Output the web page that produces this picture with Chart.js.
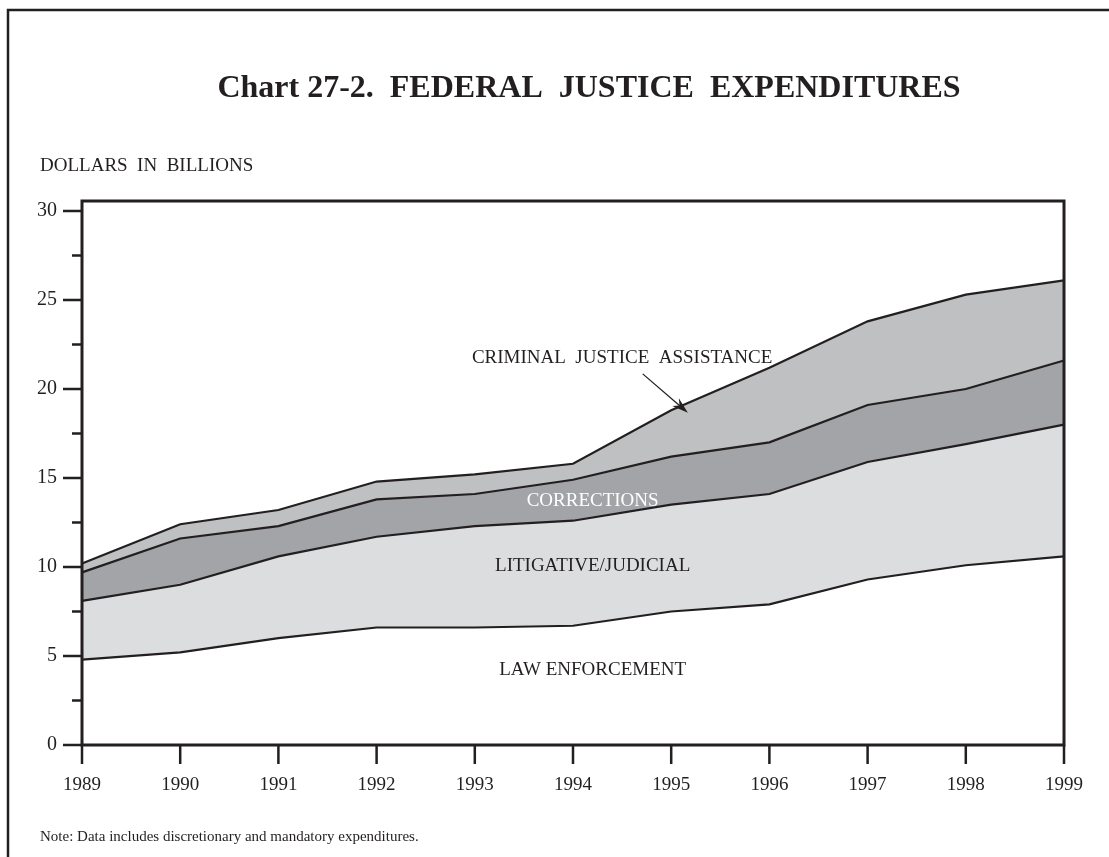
<!DOCTYPE html>
<html>
<head>
<meta charset="utf-8">
<title>Federal Justice Expenditures</title>
<script src="https://cdn.jsdelivr.net/npm/chart.js@4.4.1/dist/chart.umd.min.js"></script>
<style>
  html, body { margin: 0; padding: 0; background: #fff; }
  #wrap { position: relative; width: 1109px; height: 857px; }
</style>
</head>
<body>
<div id="wrap"><canvas id="justiceChart" width="1109" height="857"></canvas></div>
<script>
// data (billions of dollars, each category's own amount)
const years = ['1989', '1990', '1991', '1992', '1993', '1994', '1995', '1996', '1997', '1998', '1999'];
const lawEnforcement = [4.8, 5.2, 6.0, 6.6, 6.6, 6.7, 7.5, 7.9, 9.3, 10.1, 10.6];
const litigativeJudicial = [3.3, 3.8, 4.6, 5.1, 5.7, 5.9, 6.0, 6.2, 6.6, 6.8, 7.4];
const corrections = [1.6, 2.6, 1.7, 2.1, 1.8, 2.3, 2.7, 2.9, 3.2, 3.1, 3.6];
const criminalJusticeAssistance = [0.5, 0.8, 0.9, 1.0, 1.1, 0.9, 2.6, 4.2, 4.7, 5.3, 4.5];
const yTicks = [0, 5, 10, 15, 20, 25, 30];
const yMinorTicks = [2.5, 7.5, 12.5, 17.5, 22.5, 27.5];

const serif = '"Liberation Serif", "Times New Roman", serif';
const ink = '#231f20';

// extra drawing: frame, tick marks, plot box, area labels, arrow
const decorations = {
    id: 'decorations',
    afterDraw(chart) {
        const ctx = chart.ctx;
        const area = chart.chartArea;
        const x = chart.scales.x;
        const y = chart.scales.y;
        ctx.save();

        // page frame (top and left only)
        ctx.strokeStyle = ink;
        ctx.lineWidth = 2.5;
        ctx.beginPath();
        ctx.moveTo(8, 857);
        ctx.lineTo(8, 10);
        ctx.lineTo(1109, 10);
        ctx.stroke();

        // plot box, its top sits a little above the 30 line
        ctx.lineWidth = 3;
        ctx.strokeRect(area.left, area.top - 10, area.right - area.left, area.bottom - area.top + 10);

        // y tick marks
        ctx.lineWidth = 2.5;
        ctx.beginPath();
        yTicks.forEach(function (v) {
            const py = y.getPixelForValue(v);
            ctx.moveTo(area.left - 19, py);
            ctx.lineTo(area.left, py);
        });
        yMinorTicks.forEach(function (v) {
            const py = y.getPixelForValue(v);
            ctx.moveTo(area.left - 10, py);
            ctx.lineTo(area.left, py);
        });
        // x tick marks
        years.forEach(function (yr, i) {
            const px = x.getPixelForValue(i);
            ctx.moveTo(px, area.bottom);
            ctx.lineTo(px, area.bottom + 19);
        });
        ctx.stroke();

        // titles and notes
        ctx.fillStyle = ink;
        ctx.textBaseline = 'middle';
        ctx.textAlign = 'center';
        ctx.font = 'bold 32px ' + serif;
        ctx.fillText('Chart 27-2.  FEDERAL  JUSTICE  EXPENDITURES', 589, 89);
        ctx.textAlign = 'left';
        ctx.font = '19px ' + serif;
        ctx.fillText('DOLLARS  IN  BILLIONS', 40, 166);
        ctx.font = '15px ' + serif;
        ctx.fillText('Note: Data includes discretionary and mandatory expenditures.', 40, 837);

        // area labels
        ctx.textAlign = 'center';
        ctx.font = '19px ' + serif;
        ctx.fillText('CRIMINAL  JUSTICE  ASSISTANCE', x.getPixelForValue(5.5), y.getPixelForValue(21.75));
        ctx.fillText('LITIGATIVE/JUDICIAL', x.getPixelForValue(5.2), y.getPixelForValue(10.08));
        ctx.fillText('LAW ENFORCEMENT', x.getPixelForValue(5.2), y.getPixelForValue(4.2));
        ctx.fillStyle = '#ffffff';
        ctx.fillText('CORRECTIONS', x.getPixelForValue(5.2), y.getPixelForValue(13.73));

        // arrow to the assistance band
        const x0 = x.getPixelForValue(5.71), y0 = y.getPixelForValue(20.85);
        const x1 = x.getPixelForValue(6.17), y1 = y.getPixelForValue(18.67);
        const ang = Math.atan2(y1 - y0, x1 - x0);
        ctx.strokeStyle = ink;
        ctx.fillStyle = ink;
        ctx.lineWidth = 1.3;
        ctx.beginPath();
        ctx.moveTo(x0, y0);
        ctx.lineTo(x1 - 10 * Math.cos(ang), y1 - 10 * Math.sin(ang));
        ctx.stroke();
        ctx.beginPath();
        ctx.moveTo(x1, y1);
        ctx.lineTo(x1 - 17 * Math.cos(ang - 0.3), y1 - 17 * Math.sin(ang - 0.3));
        ctx.lineTo(x1 - 11 * Math.cos(ang), y1 - 11 * Math.sin(ang));
        ctx.lineTo(x1 - 17 * Math.cos(ang + 0.3), y1 - 17 * Math.sin(ang + 0.3));
        ctx.closePath();
        ctx.fill();

        ctx.restore();
    }
};

function band(label, values, fill, color) {
    return {
        label: label,
        data: values,
        fill: fill,
        backgroundColor: color,
        borderColor: ink,
        borderWidth: 2.2,
        pointRadius: 0,
        tension: 0
    };
}

const ctx = document.getElementById('justiceChart').getContext('2d');
const chart = new Chart(ctx, {
    type: 'line',
    data: {
        labels: years,
        datasets: [
            band('Law Enforcement', lawEnforcement, false, 'rgba(0,0,0,0)'),
            band('Litigative/Judicial', litigativeJudicial, '-1', '#dcdddf'),
            band('Corrections', corrections, '-1', '#a3a4a7'),
            band('Criminal Justice Assistance', criminalJusticeAssistance, '-1', '#bfc0c2')
        ]
    },
    options: {
        responsive: false,
        animation: false,
        layout: { padding: { left: 0, right: 45, top: 211, bottom: 0 } },
        plugins: {
            legend: { display: false },
            tooltip: { enabled: false },
            title: { display: false }
        },
        scales: {
            x: {
                offset: false,
                grid: { display: false },
                border: { display: false },
                ticks: { color: ink, font: { family: serif, size: 19 }, padding: 21, maxRotation: 0 },
                afterFit: function (scale) { scale.height = 112; }
            },
            y: {
                stacked: true,
                min: 0,
                max: 30,
                grid: { display: false },
                border: { display: false },
                ticks: {
                    stepSize: 5,
                    color: ink,
                    font: { family: serif, size: 20 },
                    padding: 17
                },
                afterFit: function (scale) { scale.width = 82; }
            }
        }
    },
    plugins: [decorations]
});
</script>
</body>
</html>
